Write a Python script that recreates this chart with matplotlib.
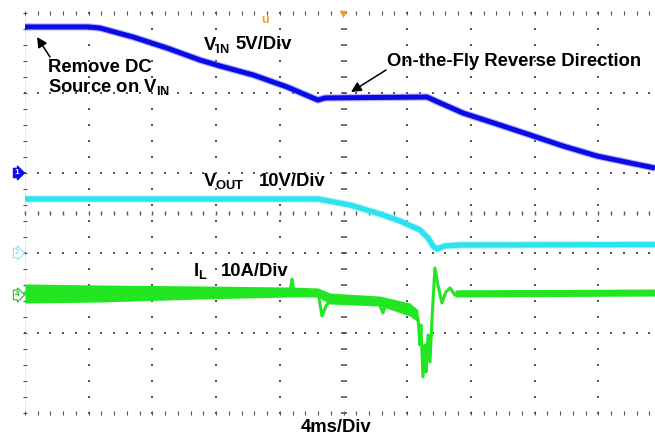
import matplotlib
matplotlib.use("Agg")
import matplotlib.pyplot as plt
import numpy as np

plt.rcParams['font.family'] = ['Liberation Sans', 'DejaVu Sans']
plt.rcParams['mathtext.fontset'] = 'custom'
plt.rcParams['mathtext.bf'] = 'Liberation Sans:bold'
plt.rcParams['mathtext.rm'] = 'Liberation Sans:bold'
plt.rcParams['mathtext.it'] = 'Liberation Sans:bold'

# ---------------- data (time in ms, channel values in V / A) ----------------
vin_t = [0.00, 3.96, 4.71, 6.78, 8.92, 10.99, 12.24, 14.32, 16.45, 18.08, 18.40,
         18.84, 25.24, 25.93, 27.50, 29.64, 31.71, 33.78, 35.92, 37.99, 39.56]
vin_v = [9.13, 9.13, 9.06, 8.50, 7.81, 7.06, 6.69, 6.13, 5.38, 4.69, 4.56,
         4.69, 4.75, 4.44, 3.75, 3.06, 2.38, 1.69, 1.06, 0.63, 0.31]

vout_t = [0.00, 18.40, 20.41, 22.29, 23.55, 24.80, 25.31, 25.62, 25.87, 26.37, 27.31, 39.56]
vout_v = [6.75, 6.75, 6.00, 4.88, 4.00, 2.88, 1.88, 0.88, 0.50, 0.88, 1.00, 1.05]

il_t = [0.00, 16.64, 16.77, 16.89, 18.40, 18.65, 18.90, 19.28, 20.41, 22.17, 22.48,
        22.67, 23.55, 24.30, 24.68, 24.80, 24.86, 24.99, 25.12, 25.18, 25.31, 25.43,
        25.56, 25.74, 25.93, 26.18, 26.43, 26.69, 27.00, 27.44, 39.56]
il_a = [0.25, 0.38, 2.00, 0.38, 0.38, -2.63, -1.38, -0.38, -0.50, -0.75, -2.25,
        -1.00, -1.38, -2.13, -2.88, -6.25, -3.75, -10.25, -6.25, -9.63, -5.00, -8.38,
        -2.88, 3.38, 1.25, -1.00, 0.38, 0.88, 0.00, 0.38, 0.38]

# noise envelope of the inductor current trace (A)
il_env1_t = [0.00, 4.71, 10.99, 16.64, 18.40, 19.15, 22.29, 24.17, 24.68]
il_env1_hi = [1.38, 1.25, 1.13, 1.00, 0.88, 0.25, -0.13, -1.00, -1.88]
il_env1_lo = [-1.00, -0.88, -0.50, -0.25, -0.25, -1.13, -1.38, -2.63, -3.38]
il_env2_t = [27.00, 39.56]
il_env2_hi = [0.63, 0.75]
il_env2_lo = [-0.25, -0.13]

names = [r'V$_{\mathbf{IN}}$', r'V$_{\mathbf{OUT}}$', r'I$_{\mathbf{L}}$']
scales_txt = ['5V/Div', '10V/Div', '10A/Div']
remove_txt = ['Remove DC', r'Source on V$_{\mathbf{IN}}$']
fly_txt = 'On-the-Fly Reverse Direction'
time_txt = '4ms/Div'

# ---------------- screen setup ----------------
MS_PER_DIV = 4.0
PX_PER_XDIV = 63.7
PX_PER_YDIV = 80.0
CH1_OFF, CH1_SCALE = 3.0, 5.0
CH2_OFF, CH2_SCALE = 2.0, 10.0
CH4_OFF, CH4_SCALE = 1.475, 10.0

W, H = 655, 442
fig = plt.figure(figsize=(W / 100, H / 100), dpi=100)
ax = fig.add_axes([0, 0, 1, 1])
ax.set_xlim(-25 * MS_PER_DIV / PX_PER_XDIV, (W - 25) * MS_PER_DIV / PX_PER_XDIV)
ax.set_ylim((413 - H) / PX_PER_YDIV, 413 / PX_PER_YDIV)
ax.axis('off')


def px2d(px, py):
    return (px - 25) * MS_PER_DIV / PX_PER_XDIV, (413 - py) / PX_PER_YDIV


gc = '#555555'
xminor = np.arange(0, 40.01, 0.8)
yminor = np.arange(0, 5.01, 0.2)
for r in range(0, 6):
    if r in (0, 5):
        ax.scatter(xminor, np.full_like(xminor, r), marker='|', s=6, c=gc, lw=0.8, zorder=1)
    else:
        ax.scatter(xminor, np.full_like(xminor, r), marker='s', s=1.2, c=gc, lw=0, zorder=1)
for c in np.arange(4, 40, 4):
    if abs(c - 20) < 1e-6:
        continue
    ax.scatter(np.full_like(yminor, c), yminor, marker='s', s=1.2, c=gc, lw=0, zorder=1)
ax.scatter(np.zeros_like(yminor), yminor, marker='_', s=6, c=gc, lw=0.8, zorder=1)
ax.plot([0, 0], [0, 5], color='#e8e8e8', lw=0.6, zorder=0)
ax.scatter(np.full_like(yminor, 20), yminor, marker='_', s=14, c=gc, lw=1.2, zorder=1)
ax.scatter(xminor, np.full_like(xminor, 2.5), marker='|', s=10, c=gc, lw=1.0, zorder=1)

# ---------------- traces ----------------
blue = '#0b0be6'
cyan = '#2ee3ef'
green = '#22e622'

y1 = CH1_OFF + np.array(vin_v) / CH1_SCALE
y2 = CH2_OFF + np.array(vout_v) / CH2_SCALE
y4 = CH4_OFF + np.array(il_a) / CH4_SCALE

ax.plot(vin_t, y1, color='#8080ff', lw=5.2, alpha=0.6, solid_capstyle='butt', zorder=3)
ax.plot(vin_t, y1, color=blue, lw=3.6, solid_capstyle='butt', zorder=4)
ax.plot(vout_t, y2, color='#a0f4f8', lw=5.4, alpha=0.6, solid_capstyle='butt', zorder=3)
ax.plot(vout_t, y2, color=cyan, lw=3.9, solid_capstyle='butt', zorder=4)

ax.fill_between(il_env1_t, CH4_OFF + np.array(il_env1_hi) / CH4_SCALE,
                CH4_OFF + np.array(il_env1_lo) / CH4_SCALE, color=green, lw=0, zorder=3)
ax.fill_between(il_env2_t, CH4_OFF + np.array(il_env2_hi) / CH4_SCALE,
                CH4_OFF + np.array(il_env2_lo) / CH4_SCALE, color=green, lw=0, zorder=3)
ax.plot(il_t, y4, color=green, lw=2.2, zorder=4)

# ---------------- markers ----------------
mx = px2d(17, 0)[0]
ax.text(mx, CH1_OFF, '1', color='white', fontsize=6, fontweight='bold', ha='center', va='center',
        bbox=dict(boxstyle='rarrow,pad=0.15', fc=blue, ec=blue, lw=0.8), zorder=5)
ax.text(mx, CH2_OFF, '2', color='#8ee8f2', fontsize=6, fontweight='bold', ha='center', va='center',
        bbox=dict(boxstyle='rarrow,pad=0.15', fc='white', ec='#8ee8f2', lw=0.8), zorder=5)
ax.text(mx, CH4_OFF, '4', color='#30b030', fontsize=6, fontweight='bold', ha='center', va='center',
        bbox=dict(boxstyle='rarrow,pad=0.15', fc='white', ec='#30b030', lw=0.8), zorder=5)
ux, uy = px2d(265, 20)
ax.text(ux, uy, 'u', color='#f0a030', fontsize=9, fontweight='bold', ha='center', va='center')
tx, ty = px2d(343, 14)
ax.scatter([tx], [ty], marker='v', s=30, c='#f0a030', lw=0, zorder=5)

# ---------------- text ----------------
fs = 13.3
kw = dict(fontsize=fs, fontweight='bold', color='black', va='center', ha='left', zorder=6)
name_px = [(203, 45), (203, 181), (193, 271)]
scale_px = [(235, 45), (259, 181), (221, 271)]
for nm, (nx, ny), st, (sx, sy) in zip(names, name_px, scales_txt, scale_px):
    ax.text(*px2d(nx, ny), nm, **kw)
    ax.text(*px2d(sx, sy), st, **kw)
ax.text(*px2d(48, 68), remove_txt[0], **kw)
ax.text(*px2d(48, 87), remove_txt[1], **kw)
ax.text(*px2d(387, 62), fly_txt, **kw)
ax.text(*px2d(336, 428), time_txt, fontsize=fs, fontweight='bold', color='black',
        va='center', ha='center')

arrow = dict(arrowstyle='-|>,head_length=0.6,head_width=0.3', color='black', lw=1.1,
             shrinkA=0, shrinkB=0)
ax.annotate('', xy=px2d(37, 37), xytext=px2d(50, 57), arrowprops=arrow, zorder=6)
ax.annotate('', xy=px2d(351, 92), xytext=px2d(386, 70), arrowprops=arrow, zorder=6)

fig.savefig('out.png', dpi=100)
